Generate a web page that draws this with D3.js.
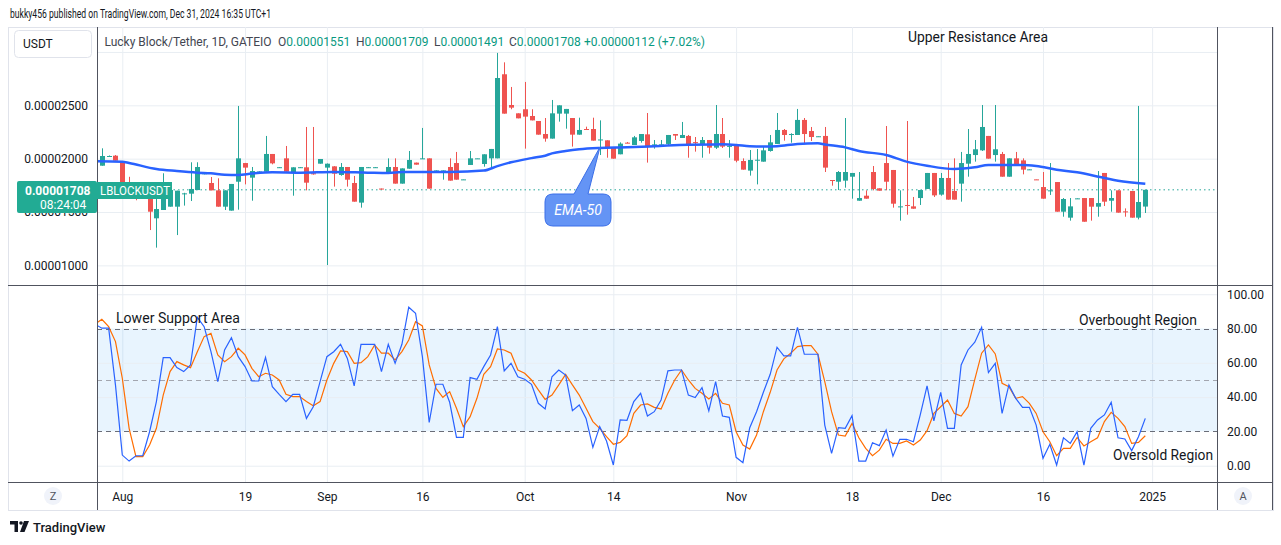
<!DOCTYPE html>
<html>
<head>
<meta charset="utf-8">
<script src="https://cdn.jsdelivr.net/npm/d3@7"></script>
<style>
  html, body { margin: 0; padding: 0; background: #fff; }
  svg { display: block; font-family: Roboto, "Liberation Sans", sans-serif; }
</style>
</head>
<body>
<div id="chart"></div>
<script>
// --- DATA (prices in micro-USDT, i.e. x 1e-6) ---

// one row per daily bar: [open, high, low, close], from Jul 28 to Dec 31 2024
const candles = [
  [19.90, 20.00, 19.60, 19.70], [19.34, 20.97, 19.34, 20.25], [20.20, 20.30, 20.20, 20.25], [20.28, 20.34, 19.81, 19.81],
  [19.78, 19.78, 17.30, 17.50], [17.80, 18.30, 16.80, 17.00], [17.20, 17.60, 16.10, 16.50], [16.60, 17.30, 16.30, 17.00],
  [16.28, 16.90, 13.31, 15.03], [14.41, 16.28, 11.66, 15.28], [15.19, 18.63, 15.19, 17.06], [15.50, 17.06, 15.50, 17.06],
  [15.50, 17.00, 12.84, 17.00], [16.70, 16.80, 15.60, 16.75], [16.72, 19.66, 16.03, 17.16], [17.06, 19.66, 17.06, 19.22],
  [18.55, 18.65, 18.53, 18.63], [17.72, 18.28, 17.03, 17.03], [17.03, 18.16, 15.50, 15.50], [15.50, 17.03, 15.19, 17.03],
  [15.13, 17.63, 15.13, 17.63], [17.84, 24.94, 15.22, 20.03], [19.59, 19.60, 17.59, 19.16], [18.22, 19.22, 16.06, 18.84],
  [18.75, 18.82, 18.73, 18.80], [18.78, 22.13, 18.78, 20.44], [20.44, 20.44, 19.47, 19.56], [19.17, 19.22, 19.15, 19.20],
  [20.03, 21.19, 18.78, 18.78], [18.75, 19.19, 16.53, 19.19], [19.17, 19.22, 19.15, 19.20], [19.19, 22.97, 17.03, 17.75],
  [18.63, 22.97, 18.50, 18.53], [19.53, 19.97, 19.53, 19.97], [19.16, 19.55, 10.03, 19.53], [19.28, 19.30, 17.38, 18.59],
  [18.47, 19.59, 18.40, 19.22], [19.22, 19.22, 17.38, 18.03], [17.72, 18.38, 15.97, 15.97], [15.88, 19.22, 15.41, 19.22],
  [19.17, 19.22, 19.15, 19.20], [19.17, 19.22, 19.15, 19.20], [17.20, 17.20, 17.10, 17.13], [18.75, 20.03, 18.75, 19.22],
  [19.22, 20.03, 17.66, 17.66], [17.66, 19.09, 17.66, 19.09], [19.06, 20.72, 19.06, 19.88], [19.63, 19.63, 19.44, 19.44],
  [19.97, 22.88, 19.97, 20.03], [20.03, 20.03, 17.19, 17.19], [18.78, 18.90, 18.78, 18.90], [18.84, 18.90, 18.03, 18.90],
  [19.22, 20.03, 17.94, 17.94], [19.59, 20.63, 18.03, 18.03], [18.03, 18.06, 18.03, 18.06], [19.41, 20.72, 19.41, 20.03],
  [20.00, 20.03, 20.00, 20.03], [19.50, 20.41, 19.25, 20.41], [20.03, 20.91, 19.09, 20.91], [20.03, 29.91, 20.03, 27.56],
  [27.91, 29.03, 24.22, 24.22], [25.03, 26.72, 24.63, 24.78], [24.25, 24.25, 23.78, 23.78], [24.63, 27.19, 20.94, 23.94],
  [24.00, 24.63, 23.59, 23.59], [23.53, 23.53, 22.25, 22.25], [22.31, 23.81, 21.59, 21.88], [21.88, 25.50, 21.88, 24.25],
  [24.22, 25.00, 23.47, 25.00], [24.22, 24.66, 22.81, 24.66], [23.81, 23.81, 21.13, 22.25], [22.25, 23.84, 22.25, 22.69],
  [22.78, 23.00, 22.72, 22.72], [22.78, 23.84, 21.69, 21.69], [21.75, 23.59, 20.34, 21.80], [21.72, 21.72, 20.09, 21.03],
  [21.09, 21.09, 20.00, 20.00], [20.41, 21.53, 20.41, 21.41], [21.50, 21.56, 21.45, 21.45], [21.28, 22.13, 21.28, 22.00],
  [21.66, 22.31, 21.50, 22.31], [22.28, 24.28, 19.63, 21.13], [21.30, 21.75, 20.94, 21.34], [21.30, 21.75, 21.20, 21.34],
  [21.38, 22.22, 21.19, 22.22], [22.31, 22.31, 21.75, 22.16], [21.94, 23.44, 21.94, 22.22], [22.13, 22.22, 20.09, 21.34],
  [21.55, 22.03, 20.66, 21.50], [21.34, 22.03, 20.09, 21.75], [21.75, 21.75, 20.47, 21.03], [21.03, 25.03, 20.91, 22.31],
  [22.31, 23.81, 21.00, 21.13], [21.16, 21.75, 20.09, 21.20], [21.31, 21.31, 19.66, 19.81], [19.78, 20.03, 18.97, 18.97],
  [18.88, 20.81, 18.41, 19.88], [19.85, 20.91, 17.59, 19.90], [19.72, 21.13, 19.72, 20.78], [20.72, 22.22, 20.66, 21.53],
  [21.38, 24.28, 21.38, 22.69], [22.69, 22.78, 21.69, 22.22], [22.28, 22.38, 21.50, 22.31], [22.22, 24.66, 22.22, 23.63],
  [23.63, 23.81, 21.34, 22.31], [22.59, 22.97, 21.66, 22.03], [22.06, 22.10, 22.06, 22.10], [22.13, 22.97, 18.75, 19.16],
  [18.00, 18.00, 17.47, 17.95], [17.84, 18.84, 17.06, 18.75], [17.94, 23.81, 17.28, 18.75], [18.31, 18.66, 16.25, 18.66],
  [16.06, 18.75, 16.06, 16.31], [16.53, 17.03, 16.25, 16.25], [18.75, 19.31, 17.03, 17.16], [17.22, 17.22, 17.00, 17.00],
  [19.59, 23.06, 17.03, 17.84], [18.94, 18.94, 15.41, 15.78], [15.50, 17.03, 14.19, 15.53], [15.66, 23.53, 14.75, 15.60],
  [15.53, 16.41, 15.31, 15.31], [16.31, 17.06, 15.66, 17.06], [17.16, 18.66, 17.16, 18.66], [18.66, 18.66, 16.41, 16.56],
  [16.63, 18.66, 16.53, 18.19], [18.19, 19.59, 16.16, 16.16], [16.97, 20.03, 16.16, 16.16], [17.66, 20.63, 15.97, 19.59],
  [19.53, 22.78, 18.31, 20.44], [20.34, 21.75, 19.72, 20.88], [20.78, 25.03, 20.72, 22.97], [22.13, 22.13, 20.00, 20.00],
  [20.34, 25.03, 19.72, 20.88], [20.44, 20.63, 18.31, 18.31], [18.31, 20.03, 18.31, 20.03], [20.03, 20.63, 19.47, 19.47],
  [19.84, 20.03, 18.53, 18.97], [18.95, 19.00, 18.95, 19.00], [18.06, 18.06, 18.03, 18.03], [17.34, 18.75, 16.25, 16.25],
  [17.00, 19.59, 16.60, 17.03], [17.81, 17.81, 15.03, 15.03], [15.03, 16.31, 14.56, 16.22], [14.47, 16.31, 14.19, 15.53],
  [16.25, 16.30, 16.25, 16.28], [16.31, 16.31, 14.09, 14.09], [16.31, 16.31, 14.19, 15.50], [15.50, 18.84, 14.56, 15.84],
  [18.66, 18.66, 15.56, 15.97], [16.06, 17.03, 15.03, 16.31], [17.03, 17.03, 14.94, 14.94], [15.06, 15.34, 14.56, 15.00],
  [16.97, 16.97, 14.47, 14.47], [14.47, 24.94, 14.31, 15.94], [15.51, 17.09, 14.91, 17.08]
];

// EMA-50: bar index / value
const emaIdx = [0, 4, 5, 9, 12, 15, 17, 19, 21, 23, 26, 30, 35, 40, 43, 45, 52, 57, 59, 61, 64, 66, 67, 69, 71, 74, 78, 82, 87, 92, 94, 96, 98, 100, 103, 106, 107, 110, 112, 116, 119, 122, 126, 129, 131, 136, 138, 141, 144, 148, 150, 154];
const emaVal = [19.75, 19.72, 19.60, 19.03, 18.84, 18.69, 18.63, 18.50, 18.47, 18.60, 18.72, 18.69, 18.75, 18.69, 18.66, 18.75, 18.76, 18.88, 19.30, 19.66, 20.05, 20.28, 20.50, 20.72, 20.88, 21.00, 21.06, 21.16, 21.31, 21.34, 21.28, 21.16, 21.13, 21.16, 21.38, 21.44, 21.33, 21.06, 20.72, 20.34, 19.72, 19.34, 19.03, 19.19, 19.41, 19.41, 19.31, 18.97, 18.72, 18.19, 17.94, 17.66];

// Stochastic RSI, %K (blue) and %D (orange), one value per bar
const stochK = [
  82.5, 80.2, 80.2, 47.0, 6.2, 2.7, 5.8, 5.8, 19.8, 37.4, 63.0, 63.0, 57.2, 54.9, 58.8, 86.6, 81.1, 66.5, 49.0, 67.5,
  74.7, 63.6, 57.8, 49.4, 49.4, 63.2, 46.1, 41.6, 37.4, 41.6, 41.6, 27.6, 34.4, 49.0, 63.6, 66.5, 70.8, 62.6, 46.5, 70.8,
  70.8, 70.8, 54.9, 70.8, 59.7, 70.8, 92.4, 88.9, 63.6, 25.3, 47.5, 47.5, 37.0, 16.5, 16.5, 51.4, 50.4, 57.8, 64.6, 81.1,
  55.3, 59.7, 51.9, 50.4, 47.5, 36.4, 33.1, 51.9, 55.8, 52.9, 32.1, 35.4, 27.6, 10.7, 22.8, 14.4, 0.4, 26.7, 26.5, 37.4,
  42.2, 29.0, 31.5, 38.3, 55.3, 55.8, 55.8, 41.2, 39.7, 45.5, 31.9, 49.0, 29.0, 28.2, 4.9, 1.8, 22.2, 31.5, 42.8, 53.3,
  69.1, 64.0, 64.0, 80.7, 65.0, 65.0, 65.0, 23.7, 7.2, 22.2, 21.8, 29.2, 2.7, 2.7, 13.4, 11.7, 20.8, 5.6, 15.4, 15.4,
  14.0, 29.6, 46.5, 26.1, 42.8, 21.8, 21.8, 58.8, 67.5, 72.0, 80.7, 54.3, 59.7, 30.5, 47.1, 39.3, 34.0, 34.0, 23.7, 4.3,
  12.5, 0.4, 16.3, 13.0, 19.8, 0.4, 21.8, 26.7, 29.6, 37.0, 16.3, 15.6, 8.8, 16.9, 27.6
];
const stochD = [
  82.5, 85.4, 81.1, 72.4, 51.0, 21.8, 5.3, 5.3, 12.1, 21.8, 41.2, 54.9, 60.7, 58.8, 57.2, 66.5, 75.3, 77.2, 64.6, 60.7,
  63.6, 68.5, 64.6, 56.8, 51.9, 53.9, 52.9, 50.0, 41.6, 40.3, 40.3, 37.4, 35.0, 37.4, 50.0, 59.7, 66.9, 66.5, 59.7, 60.1,
  63.6, 70.4, 65.6, 65.6, 61.7, 66.5, 73.3, 84.0, 81.5, 58.8, 45.1, 39.9, 43.2, 33.5, 22.8, 28.6, 39.3, 53.3, 57.8, 68.1,
  67.5, 65.6, 55.8, 53.9, 50.0, 44.2, 38.7, 41.2, 47.1, 53.3, 47.1, 41.2, 33.5, 25.7, 21.8, 16.9, 12.5, 13.6, 17.5, 30.5,
  35.4, 36.0, 34.0, 33.1, 42.2, 50.0, 55.8, 50.0, 45.1, 42.2, 38.9, 42.2, 36.4, 35.4, 19.8, 12.1, 9.7, 17.9, 31.5, 42.8,
  55.8, 62.3, 65.6, 69.5, 70.0, 70.0, 65.0, 49.0, 31.5, 17.9, 17.3, 24.7, 16.3, 10.1, 5.8, 9.1, 15.4, 13.0, 13.0, 14.4,
  12.1, 15.0, 20.4, 30.5, 34.4, 38.3, 30.5, 29.0, 34.4, 50.4, 65.6, 70.4, 65.2, 48.1, 46.1, 39.3, 40.3, 36.4, 30.5, 19.8,
  14.0, 5.8, 10.1, 10.1, 16.5, 11.5, 14.0, 16.3, 25.7, 31.1, 27.6, 22.8, 13.0, 13.6, 17.5
];

// time axis: bar index of each label
const tickIdx = [4, 22, 34, 48, 63, 76, 94, 111, 124, 139, 155];
const tickText = ["Aug", "19", "Sep", "16", "Oct", "14", "Nov", "18", "Dec", "16", "2025"];

const priceGrid = [10, 15, 20, 25, 30];
const priceTicks = [10, 15, 20, 25];
const oscTicks = [0, 20, 40, 60, 80, 100];
const lastPrice = 17.08;


// --- LAYOUT ---

const W = 1281, H = 545;
const plotL = 97, plotR = 1217;
const priceTop = 27, priceBottom = 285;
const oscTop = 286, oscBottom = 482;
const UP = "#26a69a", DOWN = "#ef5350", GRID = "#e9eef3", TEXT = "#131722";

const svg = d3.select("#chart").append("svg")
    .attr("width", W)
    .attr("height", H)
;

// scales
const xScale = d3.scaleLinear().domain([0, 154]).range([95.02, 1145.3]);
const yPrice = d3.scaleLinear().domain([8.16, 32.34]).range([priceBottom, priceTop]);
const yOsc = d3.scaleLinear().domain([-9.5, 104.8]).range([oscBottom, oscTop]);

// clip paths for both panes
const defs = svg.append("defs");
defs.append("clipPath").attr("id", "clipPrice")
    .append("rect").attr("x", plotL).attr("y", priceTop).attr("width", plotR - plotL).attr("height", priceBottom - priceTop);
defs.append("clipPath").attr("id", "clipOsc")
    .append("rect").attr("x", plotL).attr("y", oscTop).attr("width", plotR - plotL).attr("height", oscBottom - oscTop);

// title line
svg.append("text")
    .attr("x", 10).attr("y", 18)
    .attr("font-size", 12).attr("fill", TEXT)
    .attr("textLength", 261).attr("lengthAdjust", "spacingAndGlyphs")
    .text("bukky456 published on TradingView.com, Dec 31, 2024 16:35 UTC+1")
;

// outer frame
svg.append("rect")
    .attr("x", 8.5).attr("y", 27.5).attr("width", 1265).attr("height", 483)
    .attr("fill", "none").attr("stroke", "#e0e3eb")
;


// --- GRIDLINES ---

const vGrid = svg.append("g")
    .attr("transform", "translate(0," + priceTop + ")")
    .call(d3.axisBottom(xScale).tickValues(tickIdx).tickSize(oscBottom - priceTop).tickFormat(""))
;
vGrid.select(".domain").remove();
vGrid.selectAll("line").attr("stroke", GRID);

const hGrid = svg.append("g")
    .attr("transform", "translate(" + plotL + ",0)")
    .call(d3.axisRight(yPrice).tickValues(priceGrid).tickSize(plotR - plotL).tickFormat(""))
;
hGrid.select(".domain").remove();
hGrid.selectAll("line").attr("stroke", GRID);

// oscillator band and grid
svg.append("rect")
    .attr("x", plotL).attr("width", plotR - plotL)
    .attr("y", yOsc(80)).attr("height", yOsc(20) - yOsc(80))
    .attr("fill", "rgba(33,150,243,0.1)")
;
const oGrid = svg.append("g")
    .attr("transform", "translate(" + plotL + ",0)")
    .call(d3.axisRight(yOsc).tickValues([0, 40, 60, 100]).tickSize(plotR - plotL).tickFormat(""))
;
oGrid.select(".domain").remove();
oGrid.selectAll("line").attr("stroke", GRID);

svg.append("g").selectAll("line")
    .data([20, 50, 80])
    .join("line")
    .attr("x1", plotL).attr("x2", plotR)
    .attr("y1", d => Math.round(yOsc(d)) + 0.5).attr("y2", d => Math.round(yOsc(d)) + 0.5)
    .attr("stroke", d => d === 50 ? "#a3a6af" : "#6a6d78")
    .attr("stroke-dasharray", "5,4")
;


// --- PRICE PANE ---

const pricePane = svg.append("g").attr("clip-path", "url(#clipPrice)");

// last price dotted line
pricePane.append("line")
    .attr("x1", plotL).attr("x2", plotR)
    .attr("y1", yPrice(lastPrice)).attr("y2", yPrice(lastPrice))
    .attr("stroke", UP).attr("stroke-dasharray", "1.5,3")
;

// candles
const candleG = pricePane.selectAll(".candle")
    .data(candles)
    .join("g")
    .attr("class", "candle")
    .attr("fill", d => d[3] >= d[0] ? UP : DOWN)
    .attr("stroke", d => d[3] >= d[0] ? UP : DOWN)
;
candleG.append("line")
    .attr("x1", (d, i) => Math.round(xScale(i)) + 0.5)
    .attr("x2", (d, i) => Math.round(xScale(i)) + 0.5)
    .attr("y1", d => yPrice(d[1]))
    .attr("y2", d => yPrice(d[2]))
    .attr("stroke-width", 1)
;
candleG.append("rect")
    .attr("x", (d, i) => Math.round(xScale(i)) - 2)
    .attr("width", 5)
    .attr("y", d => yPrice(Math.max(d[0], d[3])))
    .attr("height", d => Math.max(1, Math.abs(yPrice(d[0]) - yPrice(d[3]))))
    .attr("stroke", "none")
;

// EMA-50
pricePane.append("path")
    .datum(emaIdx.map((d, k) => [d, emaVal[k]]))
    .attr("fill", "none")
    .attr("stroke", "#2962ff")
    .attr("stroke-width", 2.5)
    .attr("d", d3.line().x(d => xScale(d[0])).y(d => yPrice(d[1])).curve(d3.curveMonotoneX))
;


// --- OSCILLATOR PANE ---

const oscPane = svg.append("g").attr("clip-path", "url(#clipOsc)");
const oscLine = d3.line().x((d, i) => xScale(i)).y(d => yOsc(d));
oscPane.append("path")
    .datum(stochD)
    .attr("fill", "none").attr("stroke", "#ff6d00").attr("stroke-width", 1.2)
    .attr("d", oscLine)
;
oscPane.append("path")
    .datum(stochK)
    .attr("fill", "none").attr("stroke", "#2962ff").attr("stroke-width", 1.2)
    .attr("d", oscLine)
;


// --- AXES ---

const priceAxis = svg.append("g")
    .attr("transform", "translate(" + plotL + ",0)")
    .call(d3.axisLeft(yPrice).tickValues(priceTicks).tickSize(0).tickPadding(9).tickFormat(d => (d * 1e-6).toFixed(8)))
;
priceAxis.select(".domain").remove();
priceAxis.selectAll("text").attr("font-size", 12).attr("fill", TEXT).attr("font-family", "Roboto, sans-serif");

const oscAxis = svg.append("g")
    .attr("transform", "translate(" + plotR + ",0)")
    .call(d3.axisRight(yOsc).tickValues(oscTicks).tickSize(0).tickPadding(10).tickFormat(d3.format(".2f")))
;
oscAxis.select(".domain").remove();
oscAxis.selectAll("text").attr("font-size", 12).attr("fill", TEXT).attr("font-family", "Roboto, sans-serif");

const timeAxis = svg.append("g")
    .attr("transform", "translate(0," + oscBottom + ")")
    .call(d3.axisBottom(xScale).tickValues(tickIdx).tickSize(0).tickPadding(10).tickFormat((d, k) => tickText[k]))
;
timeAxis.select(".domain").remove();
timeAxis.selectAll("text").attr("font-size", 12).attr("fill", TEXT).attr("font-family", "Roboto, sans-serif");

// pane separators
const sep = "#50535e";
svg.append("line").attr("x1", plotL + 0.5).attr("x2", plotL + 0.5).attr("y1", 27).attr("y2", 510).attr("stroke", sep);
svg.append("line").attr("x1", plotR + 0.5).attr("x2", plotR + 0.5).attr("y1", 27).attr("y2", 510).attr("stroke", sep);
svg.append("line").attr("x1", 8).attr("x2", 1273).attr("y1", 285.5).attr("y2", 285.5).attr("stroke", sep);
svg.append("line").attr("x1", 8).attr("x2", 1273).attr("y1", 482.5).attr("y2", 482.5).attr("stroke", sep);
svg.append("line").attr("x1", 1272.5).attr("x2", 1272.5).attr("y1", 27).attr("y2", 510).attr("stroke", sep);


// --- LABELS & ANNOTATIONS ---

// currency box
svg.append("rect")
    .attr("x", 14.5).attr("y", 30.5).attr("width", 77).attr("height", 27).attr("rx", 4)
    .attr("fill", "#fff").attr("stroke", "#e0e3eb")
;
svg.append("text").attr("x", 23).attr("y", 48).attr("font-size", 12).attr("fill", TEXT).text("USDT");

// legend line
const legend = svg.append("text").attr("y", 46).attr("font-size", 12);
legend.append("tspan").attr("x", 104.5).attr("fill", "#434651").text("Lucky Block/Tether, 1D, GATEIO");
[["O", "0.00001551", 278], ["H", "0.00001709", 356], ["L", "0.00001491", 434], ["C", "0.00001708", 509]].forEach(p => {
    legend.append("tspan").attr("x", p[2]).attr("fill", "#434651").text(p[0]);
    legend.append("tspan").attr("fill", "#089981").text(p[1]);
});
legend.append("tspan").attr("x", 584).attr("fill", "#089981").text("+0.00000112 (+7.02%)");

// last price label
svg.append("rect")
    .attr("x", 17).attr("y", 181).attr("width", 80).attr("height", 32).attr("rx", 2)
    .attr("fill", "#22ab94")
;
svg.append("text").attr("x", 25).attr("y", 195).attr("font-size", 12).attr("font-weight", "bold").attr("fill", "#fff").text("0.00001708");
svg.append("text").attr("x", 40).attr("y", 209).attr("font-size", 12).attr("fill", "#fff").text("08:24:04");
svg.append("rect")
    .attr("x", 97).attr("y", 182).attr("width", 75).attr("height", 17)
    .attr("fill", "#22ab94")
;
svg.append("text")
    .attr("x", 100).attr("y", 195).attr("font-size", 13).attr("fill", "#fff")
    .attr("textLength", 70).attr("lengthAdjust", "spacingAndGlyphs")
    .text("LBLOCKUSDT")
;

// annotations
const note = (x, y, t, w) => svg.append("text")
    .attr("x", x).attr("y", y).attr("font-size", 14).attr("fill", TEXT)
    .attr("textLength", w).attr("lengthAdjust", "spacingAndGlyphs")
    .text(t);
note(908, 42, "Upper Resistance Area", 140);
note(116, 323, "Lower Support Area", 124);
note(1079, 325, "Overbought Region", 118);
note(1113, 460, "Oversold Region", 100);

// EMA-50 callout
svg.append("path")
    .attr("d", "M553,194 L574,194 L600,147 L588,194 L603,194 Q611,194 611,202 L611,218 Q611,226 603,226 L553,226 Q545,226 545,218 L545,202 Q545,194 553,194 Z")
    .attr("fill", "#6494f5").attr("stroke", "#3b6fe8").attr("stroke-width", 1)
;
svg.append("text")
    .attr("x", 578).attr("y", 215).attr("text-anchor", "middle")
    .attr("font-size", 14).attr("font-style", "italic").attr("fill", "#fff")
    .text("EMA-50")
;

// scale buttons
[[53, "Z"], [1243, "A"]].forEach(b => {
    svg.append("circle").attr("cx", b[0]).attr("cy", 496).attr("r", 9).attr("fill", "#f0f3fa");
    svg.append("text").attr("x", b[0]).attr("y", 500).attr("text-anchor", "middle").attr("font-size", 11).attr("fill", "#50535e").text(b[1]);
});

// footer logo
svg.append("path").attr("d", "M10,521 h8 v11 h-3.5 v-7.5 h-4.5 z").attr("fill", TEXT);
svg.append("circle").attr("cx", 21).attr("cy", 523).attr("r", 1.8).attr("fill", TEXT);
svg.append("path").attr("d", "M24,521 h5 l-4.5,11 h-4.5 z").attr("fill", TEXT);
svg.append("text").attr("x", 33).attr("y", 532).attr("font-size", 13).attr("font-weight", 500).attr("fill", TEXT).text("TradingView");
</script>
</body>
</html>
